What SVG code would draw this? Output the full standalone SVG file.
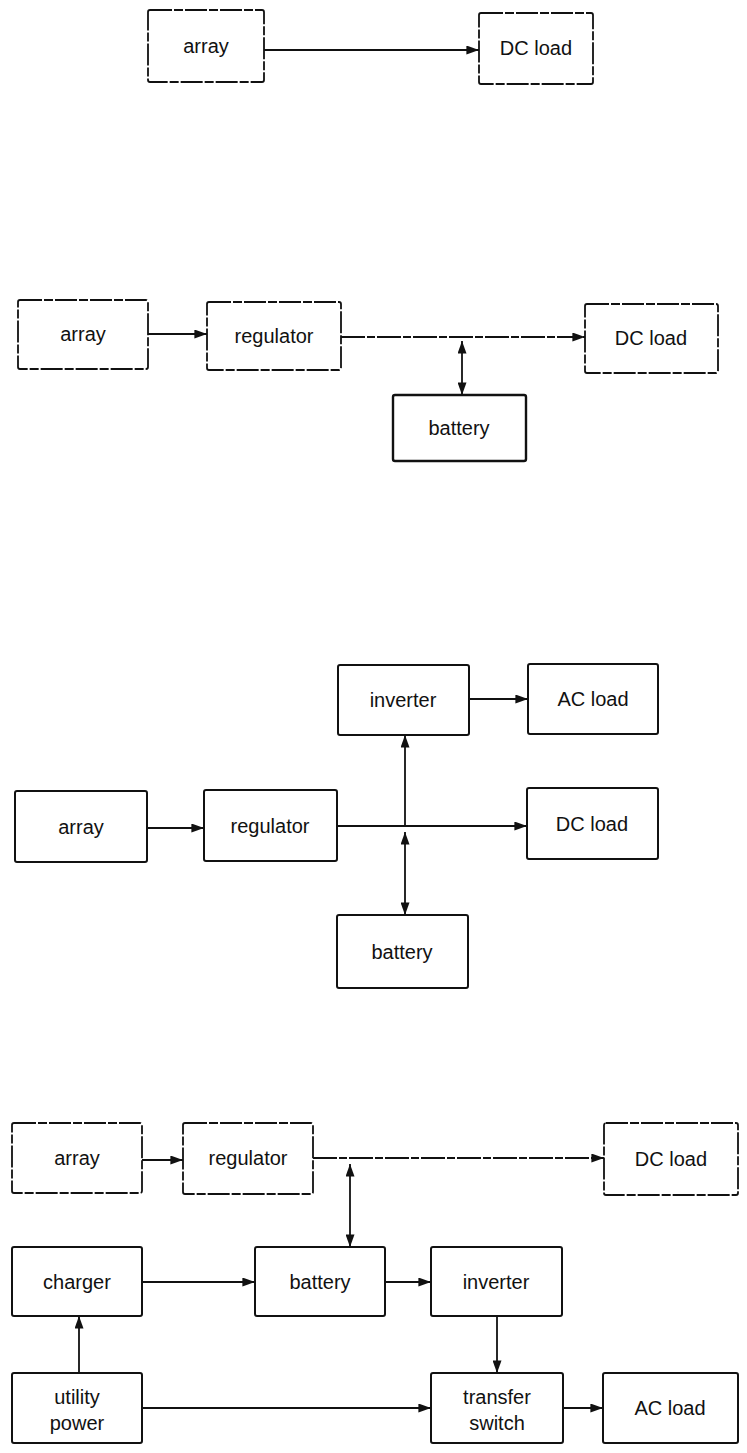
<svg xmlns="http://www.w3.org/2000/svg" width="747" height="1453" viewBox="0 0 747 1453">
<style>
  .box { fill: #ffffff; stroke: #111; stroke-width: 2; }
  .faint { stroke-dasharray: 22 2 9 2; stroke-width: 1.8; }
  .heavy { stroke-width: 2.4; }
  .lbl { font-family: "Liberation Sans", Arial, sans-serif; font-size: 20px; fill: #111; text-anchor: middle; }
  .wire { stroke: #111; stroke-width: 1.8; fill: none; }
  .wire.faint { stroke-dasharray: 24 2 8 2; }
</style>
<defs>
  <marker id="ah" viewBox="0 0 14 10" refX="14" refY="5" markerWidth="14" markerHeight="9" markerUnits="userSpaceOnUse" orient="auto-start-reverse">
    <path d="M0,0 L14,5 L0,10 Z" fill="#111"/>
  </marker>
</defs>
<rect x="0" y="0" width="747" height="1453" fill="#ffffff"/>

<!-- Diagram 1 -->
<g id="d1-array"><rect class="box faint" x="148" y="10" width="116" height="72" rx="2"/><text class="lbl" x="206" y="53">array</text></g>
<g id="d1-dcload"><rect class="box faint" x="479" y="13" width="114" height="71" rx="2"/><text class="lbl" x="536" y="55">DC load</text></g>

<!-- Diagram 2 -->
<g id="d2-array"><rect class="box faint" x="18" y="300" width="130" height="69" rx="2"/><text class="lbl" x="83" y="341">array</text></g>
<g id="d2-regulator"><rect class="box faint" x="207" y="302" width="134" height="68" rx="2"/><text class="lbl" x="274" y="343">regulator</text></g>
<g id="d2-dcload"><rect class="box faint" x="585" y="304" width="133" height="69" rx="2"/><text class="lbl" x="651" y="345">DC load</text></g>
<g id="d2-battery"><rect class="box heavy" x="393" y="395" width="133" height="66" rx="2"/><text class="lbl" x="459" y="435">battery</text></g>

<!-- Diagram 3 -->
<g id="d3-inverter"><rect class="box" x="338" y="665" width="131" height="70" rx="2"/><text class="lbl" x="403" y="707">inverter</text></g>
<g id="d3-acload"><rect class="box" x="528" y="664" width="130" height="70" rx="2"/><text class="lbl" x="593" y="706">AC load</text></g>
<g id="d3-array"><rect class="box" x="15" y="791" width="132" height="71" rx="2"/><text class="lbl" x="81" y="834">array</text></g>
<g id="d3-regulator"><rect class="box" x="204" y="790" width="133" height="71" rx="2"/><text class="lbl" x="270" y="833">regulator</text></g>
<g id="d3-dcload"><rect class="box" x="527" y="788" width="131" height="71" rx="2"/><text class="lbl" x="592" y="831">DC load</text></g>
<g id="d3-battery"><rect class="box" x="337" y="915" width="131" height="73" rx="2"/><text class="lbl" x="402" y="959">battery</text></g>

<!-- Diagram 4 -->
<g id="d4-array"><rect class="box faint" x="12" y="1123" width="130" height="70" rx="2"/><text class="lbl" x="77" y="1165">array</text></g>
<g id="d4-regulator"><rect class="box faint" x="183" y="1123" width="130" height="71" rx="2"/><text class="lbl" x="248" y="1165">regulator</text></g>
<g id="d4-dcload"><rect class="box faint" x="604" y="1123" width="134" height="72" rx="2"/><text class="lbl" x="671" y="1166">DC load</text></g>
<g id="d4-charger"><rect class="box" x="12" y="1247" width="130" height="69" rx="2"/><text class="lbl" x="77" y="1289">charger</text></g>
<g id="d4-battery"><rect class="box" x="255" y="1247" width="130" height="69" rx="2"/><text class="lbl" x="320" y="1289">battery</text></g>
<g id="d4-inverter"><rect class="box" x="431" y="1247" width="131" height="69" rx="2"/><text class="lbl" x="496" y="1289">inverter</text></g>
<g id="d4-utility"><rect class="box" x="12" y="1373" width="130" height="70" rx="2"/><text class="lbl" x="77" y="1404">utility</text><text class="lbl" x="77" y="1430">power</text></g>
<g id="d4-transfer"><rect class="box" x="431" y="1373" width="132" height="70" rx="2"/><text class="lbl" x="497" y="1404">transfer</text><text class="lbl" x="497" y="1430">switch</text></g>
<g id="d4-acload"><rect class="box" x="603" y="1373" width="135" height="70" rx="2"/><text class="lbl" x="670" y="1415">AC load</text></g>

<g id="connectors">
  <!-- D1 -->
  <line class="wire" x1="264" y1="50" x2="479" y2="50" marker-end="url(#ah)"/>
  <!-- D2 -->
  <line class="wire" x1="148" y1="334" x2="207" y2="334" marker-end="url(#ah)"/>
  <line class="wire faint" x1="341" y1="337" x2="585" y2="337" marker-end="url(#ah)"/>
  <line class="wire" x1="462" y1="341" x2="462" y2="395" marker-start="url(#ah)" marker-end="url(#ah)"/>
  <!-- D3 -->
  <line class="wire" x1="469" y1="699" x2="528" y2="699" marker-end="url(#ah)"/>
  <line class="wire" x1="147" y1="828" x2="204" y2="828" marker-end="url(#ah)"/>
  <line class="wire" x1="337" y1="826" x2="527" y2="826" marker-end="url(#ah)"/>
  <line class="wire" x1="405" y1="826" x2="405" y2="735" marker-end="url(#ah)"/>
  <line class="wire" x1="405" y1="832" x2="405" y2="915" marker-start="url(#ah)" marker-end="url(#ah)"/>
  <!-- D4 -->
  <line class="wire" x1="142" y1="1160" x2="183" y2="1160" marker-end="url(#ah)"/>
  <line class="wire faint" x1="313" y1="1158" x2="604" y2="1158" marker-end="url(#ah)"/>
  <line class="wire" x1="350" y1="1164" x2="350" y2="1247" marker-start="url(#ah)" marker-end="url(#ah)"/>
  <line class="wire" x1="142" y1="1282" x2="255" y2="1282" marker-end="url(#ah)"/>
  <line class="wire" x1="385" y1="1282" x2="431" y2="1282" marker-end="url(#ah)"/>
  <line class="wire" x1="497" y1="1316" x2="497" y2="1373" marker-end="url(#ah)"/>
  <line class="wire" x1="79" y1="1373" x2="79" y2="1316" marker-end="url(#ah)"/>
  <line class="wire" x1="142" y1="1408" x2="431" y2="1408" marker-end="url(#ah)"/>
  <line class="wire" x1="563" y1="1408" x2="603" y2="1408" marker-end="url(#ah)"/>
</g>
</svg>
